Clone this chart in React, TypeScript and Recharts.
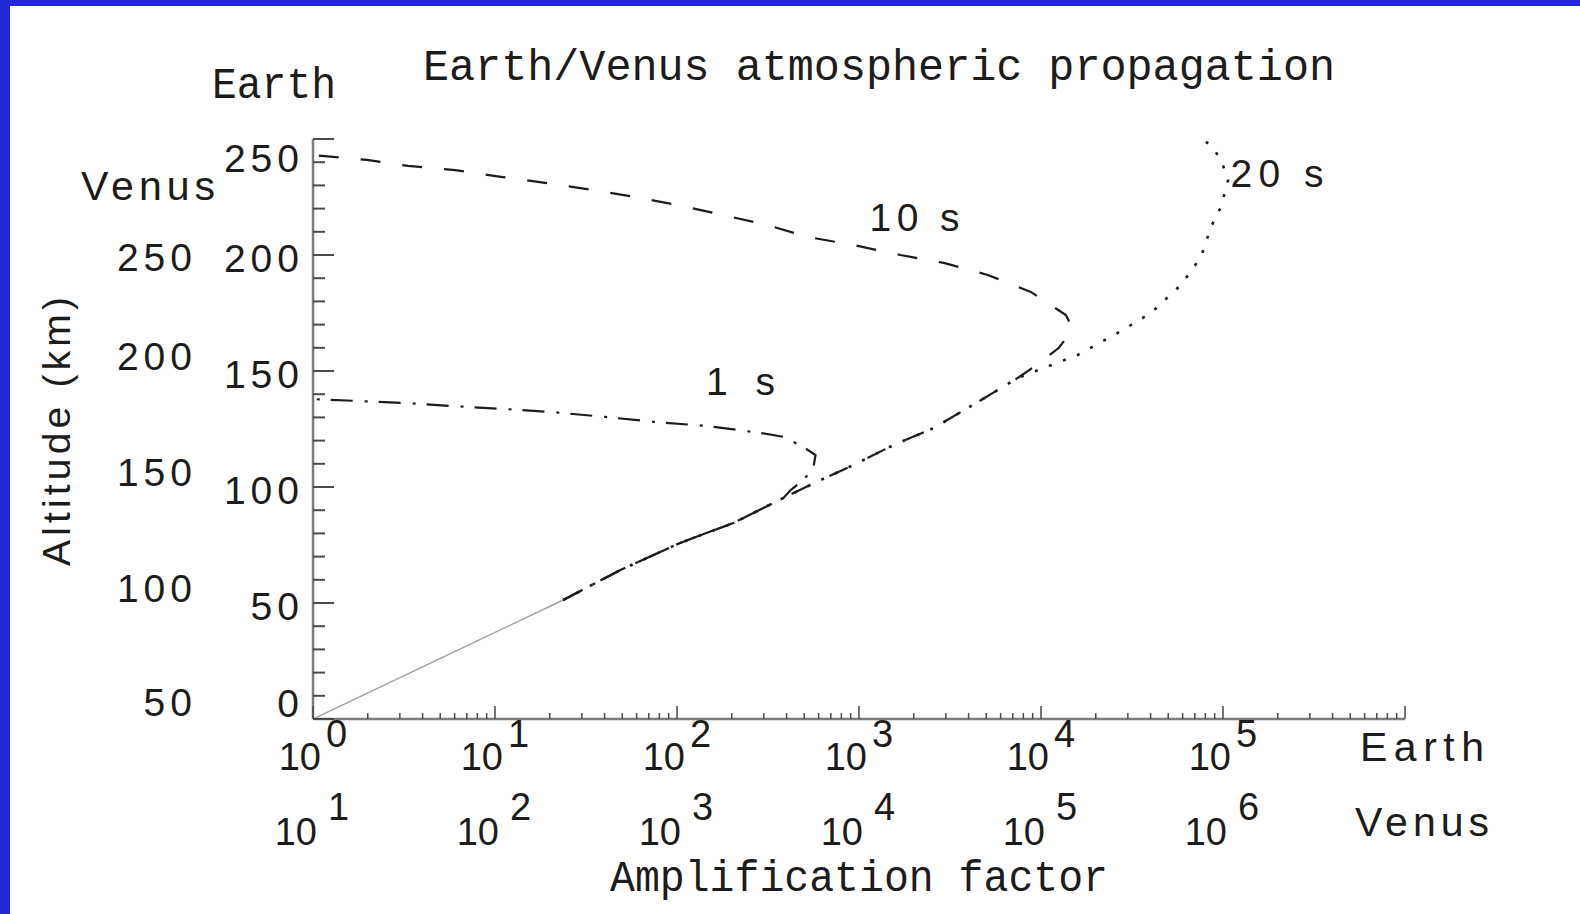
import { LineChart, Line, XAxis, YAxis, ReferenceDot } from "recharts";

// altitude in km (Earth scale), amplification factor (Earth scale)
const groundAlt = [0, 51.3];
const groundAmp = [1, 23.7];

// common to every period below the 1 s turning point
const lowAlt = [51.3, 64.2, 75.9, 84.5, 95.3];
const lowAmp = [23.7, 48.9, 104, 204, 385];

// common to 10 s and 20 s
const midAlt = [103.0, 109.5, 118.1, 125.4, 136.6, 147.0];
const midAmp = [615, 934, 1550, 2570, 4490, 7450];

const oneSecAlt = [137.9, 136.2, 134.9, 133.6, 132.3, 130.2, 128.0, 126.3, 123.3, 121.6, 117.2, 113.8, 108.6, 103.0, 98.7];
const oneSecAmp = [1, 3.21, 5.82, 11.4, 20.6, 40.4, 76.1, 147, 287, 385, 496, 577, 562, 496, 421];

const tenSecAlt = [153.9, 159.9, 165.5, 169.8, 174.1, 184.1, 191.4, 196.6, 200.0, 204.3, 207.8, 212.9, 217.2, 221.1, 225.0, 228.0, 231.0, 233.6, 236.6, 238.4, 241.0, 243.1];
const tenSecAmp = [9980, 12500, 14200, 14600, 13700, 8790, 5100, 2920, 1690, 934, 521, 314, 180, 107, 59, 34.3, 19.4, 11.0, 6.04, 3.33, 1.98, 1];

const twentySecAlt = [156.9, 166.4, 175.0, 187.1, 199.1, 212.1, 220.7, 232.3, 241.0, 247.4, 250];
const twentySecAmp = [15900, 26400, 40200, 58700, 75700, 85900, 97500, 106700, 97500, 85900, 75700];

// axis ticks
const decades = [1, 10, 100, 1000, 10000, 100000, 1000000];
const mantissas = [1, 2, 3, 4, 5, 6, 7, 8, 9];
const earthExp = ["0", "1", "2", "3", "4", "5"];
const venusExp = ["1", "2", "3", "4", "5", "6"];
const altMajor = [0, 50, 100, 150, 200, 250];
const altLabels = ["0", "50", "100", "150", "200", "250"];
const venusAltLabels = ["50", "100", "150", "200", "250"];

const xTicks = decades.flatMap((d, i) => (i < decades.length - 1 ? mantissas.map((m) => m * d) : [d]));
const yTicks = Array.from({ length: 26 }, (_, i) => i * 10);

const pts = (alt: number[], amp: number[]) => alt.map((a, i) => ({ alt: a, amp: amp[i] }));
const groundData = pts(groundAlt, groundAmp);
const oneSecData = [...pts(lowAlt, lowAmp), ...pts(oneSecAlt, oneSecAmp).reverse()];
const tenSecData = [...pts(lowAlt, lowAmp), ...pts(midAlt, midAmp), ...pts(tenSecAlt, tenSecAmp)];
const twentySecData = [...pts(lowAlt, lowAmp), ...pts(midAlt, midAmp), ...pts(twentySecAlt, twentySecAmp)];

const INK = "#1c1c1c";
const FRAME = "#7d7d7d";
const TICK = "#4a4a4a";
const SANS = "'Liberation Sans', Arial, sans-serif";
const MONO = "'Liberation Mono', 'DejaVu Sans Mono', monospace";
const BLUE = "#2229d5";

const isMajorX = (v: number) => Math.abs(Math.log10(v) - Math.round(Math.log10(v))) < 1e-9;

function BottomTick(props: any) {
  const { x, y, payload } = props;
  const v = payload.value;
  const major = isMajorX(v);
  const e = Math.round(Math.log10(v));
  return (
    <g>
      <line x1={x} x2={x} y1={y} y2={y - (major ? 13 : 6)} stroke={TICK} strokeWidth={1.5} />
      {major && e < earthExp.length && (
        <g fontFamily={SANS} fontSize={38} fill={INK}>
          <text x={x + 8} y={y + 51} textAnchor="end">10</text>
          <text x={x + 13} y={y + 28}>{earthExp[e]}</text>
          <text x={x + 4} y={y + 126} textAnchor="end">10</text>
          <text x={x + 15} y={y + 101}>{venusExp[e]}</text>
        </g>
      )}
    </g>
  );
}

function TopTick(props: any) {
  const { x, y, payload } = props;
  const major = isMajorX(payload.value);
  return <line x1={x} x2={x} y1={y} y2={y + (major ? 13 : 6)} stroke={TICK} strokeWidth={1.5} />;
}

function LeftTick(props: any) {
  const { x, y, payload } = props;
  const v = payload.value;
  const i = altMajor.indexOf(v);
  const major = i >= 0;
  const ls = 5;
  const dyEarth = v === 250 ? 19 : v === 0 ? -16 : 3;
  const dyVenus = v === 200 ? 2 : v === 0 ? -17 : -15;
  return (
    <g>
      <line x1={x} x2={x + (major ? 21 : 12)} y1={y} y2={y} stroke={TICK} strokeWidth={2} />
      {major && (
        <g fontFamily={SANS} fontSize={39} fill={INK} letterSpacing={ls}>
          <text x={299 + ls} y={y + dyEarth + 14} textAnchor="end">{altLabels[i]}</text>
          {i < venusAltLabels.length && (
            <text x={192 + ls} y={y + dyVenus + 14} textAnchor="end">{venusAltLabels[i]}</text>
          )}
        </g>
      )}
    </g>
  );
}

function RightTick(props: any) {
  const { x, y, payload } = props;
  const major = payload.value % 50 === 0;
  return <line x1={x} x2={x - (major ? 21 : 12)} y1={y} y2={y} stroke={TICK} strokeWidth={2} />;
}

const curveLabel = (text: string, width: number) => (props: any) => {
  const vb = props.viewBox || { x: 0, y: 0, width: 0, height: 0 };
  const cx = vb.x + (vb.width || 0) / 2;
  const cy = vb.y + (vb.height || 0) / 2;
  return (
    <text x={cx} y={cy + 14} textAnchor="middle" fontFamily={SANS} fontSize={39} fill={INK} textLength={width} lengthAdjust="spacing">
      {text}
    </text>
  );
};

export default function App() {
  return (
    <div style={{ position: "absolute", left: 0, top: 0, width: 1580, height: 914, background: "#fff", overflow: "hidden" }}>
      <LineChart width={1580} height={914} margin={{ top: 139, right: 175, bottom: 0, left: 0 }}>
        <XAxis
          dataKey="amp"
          type="number"
          scale="log"
          domain={[1, 1000000]}
          allowDataOverflow
          ticks={xTicks}
          interval={0}
          height={195}
          tickSize={0}
          tickMargin={0}
          tickLine={false}
          axisLine={{ stroke: FRAME, strokeWidth: 2.5 }}
          tick={<BottomTick />}
        />
        <XAxis
          xAxisId="top"
          orientation="top"
          dataKey="amp"
          type="number"
          scale="log"
          domain={[1, 1000000]}
          allowDataOverflow
          ticks={xTicks}
          interval={0}
          height={0}
          tickSize={0}
          tickMargin={0}
          tickLine={false}
          axisLine={{ stroke: FRAME, strokeWidth: 2.5 }}
          tick={<TopTick />}
        />
        <YAxis
          type="number"
          domain={[0, 250]}
          allowDataOverflow
          ticks={yTicks}
          interval={0}
          width={313}
          tickSize={0}
          tickMargin={0}
          tickLine={false}
          axisLine={{ stroke: FRAME, strokeWidth: 2.5 }}
          tick={<LeftTick />}
        />
        <YAxis
          yAxisId="right"
          orientation="right"
          type="number"
          domain={[0, 250]}
          allowDataOverflow
          ticks={yTicks}
          interval={0}
          width={0}
          tickSize={0}
          tickMargin={0}
          tickLine={false}
          axisLine={{ stroke: FRAME, strokeWidth: 2.5 }}
          tick={<RightTick />}
        />
        <Line data={groundData} dataKey="alt" type="linear" stroke="#a0a0a0" strokeWidth={1.5} dot={false} activeDot={false} isAnimationActive={false} />
        <Line data={oneSecData} dataKey="alt" type="linear" stroke={INK} strokeWidth={2.2} strokeDasharray="22 11 3 12" dot={false} activeDot={false} isAnimationActive={false} />
        <Line data={tenSecData} dataKey="alt" type="linear" stroke={INK} strokeWidth={2.2} strokeDasharray="20 22" dot={false} activeDot={false} isAnimationActive={false} />
        <Line data={twentySecData} dataKey="alt" type="linear" stroke={INK} strokeWidth={2.6} strokeDasharray="3 12" dot={false} activeDot={false} isAnimationActive={false} />
        <ReferenceDot x={223} y={145.7} r={1} fill="none" stroke="none" label={curveLabel("1 s", 69)} />
        <ReferenceDot x={2020} y={216.4} r={1} fill="none" stroke="none" label={curveLabel("10 s", 90)} />
        <ReferenceDot x={198000} y={235.3} r={1} fill="none" stroke="none" label={curveLabel("20 s", 93)} />
      </LineChart>
      <svg width={1580} height={914} style={{ position: "absolute", left: 0, top: 0, pointerEvents: "none" }}>
        <g fill={INK}>
          <text x={423} y={80} fontFamily={MONO} fontSize={44} textLength={912} lengthAdjust="spacingAndGlyphs">
            Earth/Venus atmospheric propagation
          </text>
          <text x={212} y={98} fontFamily={MONO} fontSize={44} textLength={124} lengthAdjust="spacingAndGlyphs">Earth</text>
          <text x={81} y={200} fontFamily={SANS} fontSize={41} textLength={134} lengthAdjust="spacing">Venus</text>
          <text x={1360} y={761} fontFamily={SANS} fontSize={41} textLength={124} lengthAdjust="spacing">Earth</text>
          <text x={1355} y={836} fontFamily={SANS} fontSize={41} textLength={134} lengthAdjust="spacing">Venus</text>
          <text x={610} y={891} fontFamily={MONO} fontSize={44} textLength={498} lengthAdjust="spacingAndGlyphs">
            Amplification factor
          </text>
          <text x={0} y={0} transform="translate(70,566) rotate(-90)" fontFamily={SANS} fontSize={39} textLength={269} lengthAdjust="spacing">
            Altitude (km)
          </text>
        </g>
      </svg>
      <div style={{ position: "absolute", left: 0, top: 0, width: 1580, height: 6, background: BLUE }} />
      <div style={{ position: "absolute", left: 0, top: 0, width: 10, height: 914, background: BLUE }} />
    </div>
  );
}
